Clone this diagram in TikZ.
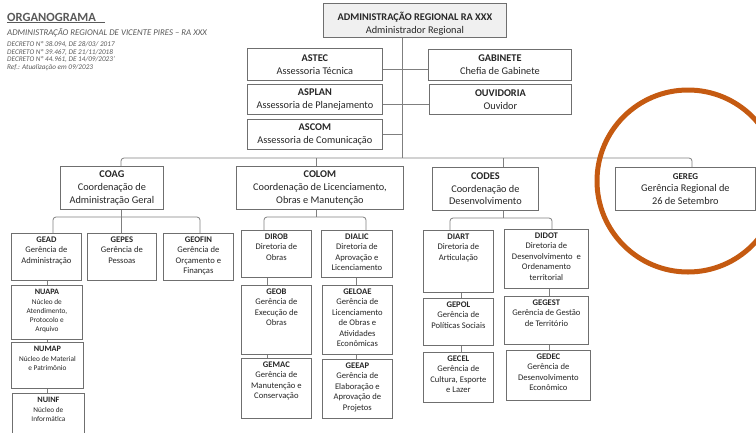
\documentclass[tikz,border=0pt]{standalone}
\usepackage{fontspec}
\setmainfont{Carlito}
\definecolor{tc}{HTML}{262626}
\definecolor{hc}{HTML}{595959}
\definecolor{bc}{HTML}{6F6F6F}
\definecolor{lc}{HTML}{7F7F7F}
\definecolor{oc}{HTML}{C55A11}
\newcommand\fA{\fontsize{10.3}{12.6}\selectfont}
\newcommand\fB{\fontsize{8.6}{10.5}\selectfont}
\newcommand\fC{\fontsize{7.3}{8.9}\selectfont}
\newcommand\fT{\fontsize{8.2}{9.5}\selectfont\bfseries}
\tikzset{
  bx/.style={draw=bc, line width=0.8pt, fill=white, rectangle, inner sep=1pt, text=tc},
  txt/.style={align=center, inner sep=0pt, text=tc},
  ln/.style={draw=lc, line width=0.8pt},
}
% centered box: [opts]{name}{x1}{y1}{x2}{y2}{text}
\newcommand\cbox[7][]{%
  \node[bx, align=center, anchor=north west, minimum width={(#5-#3)*1pt}, minimum height={(#6-#4)*1pt}, #1] (#2) at (#3,#4) {#7};}
% top aligned box
\newcommand\tbox[7][]{%
  \node[bx, anchor=north west, minimum width={(#5-#3)*1pt}, minimum height={(#6-#4)*1pt}] (#2) at (#3,#4) {};
  \node[txt, anchor=north, #1] (#2-t) at ([yshift=-3.5pt]#2.north) {#7};}
\begin{document}
\begin{tikzpicture}[x=1pt, y=-1pt]
\useasboundingbox (0,0) rectangle (756,432);
\clip (0,0) rectangle (756,432);
% header
\node[anchor=west, inner sep=0pt, text=hc, font=\fontsize{12.5}{14}\selectfont\bfseries] (title) at (7,18) {\underline{ORGANOGRAMA\hspace{9pt}}};
\node[anchor=west, inner sep=0pt, text=hc, font=\fontsize{8.8}{10}\selectfont\itshape] (sub) at (7,33) {ADMINISTRAÇÃO REGIONAL DE VICENTE PIRES – RA XXX};
\node[anchor=north west, inner sep=0pt, align=left, text=hc, font=\fontsize{7.2}{7.9}\selectfont\itshape] (dec) at (7,41) {DECRETO Nº 38.094, DE 28/03/ 2017\\DECRETO Nº 39.467, DE 21/11/2018\\DECRETO Nº 44.961, DE 14/09/2023'\\Ref.: Atualização em 09/2023};
% top boxes
\node[bx, fill=gray!12, anchor=north west, minimum width=183pt, minimum height=34pt] (adm) at (323,3) {};
\node[txt, font=\fA] (adm-t) at ([yshift=-3pt]adm.center) {\textbf{ADMINISTRAÇÃO REGIONAL RA XXX}\\Administrador Regional};
\cbox[font=\fA]{astec}{247}{48}{382}{80}{\textbf{ASTEC}\\Assessoria Técnica}
\cbox[font=\fA]{asplan}{247}{84}{382}{114}{\textbf{ASPLAN}\\Assessoria de Planejamento}
\cbox[font=\fA]{ascom}{247}{119}{382}{149}{\textbf{ASCOM}\\Assessoria de Comunicação}
\cbox[font=\fA]{gab}{428}{49}{571}{80}{\textbf{GABINETE}\\Chefia de Gabinete}
\cbox[font=\fA]{ouv}{429}{84}{571}{114}{\textbf{OUVIDORIA}\\Ouvidor}
% coordinations
\cbox[font=\fA]{coag}{60}{166}{163}{209}{\textbf{COAG}\\Coordenação de\\Administração Geral}
\cbox[font=\fA]{colom}{236}{166}{403}{209}{\textbf{COLOM}\\Coordenação de Licenciamento,\\Obras e Manutenção}
\cbox[font=\fA]{codes}{432}{167}{538}{210}{\textbf{CODES}\\Coordenação de\\Desenvolvimento}
\cbox[font=\fA]{gereg}{615}{167}{755}{210}{{\fontsize{9}{10}\selectfont\bfseries GEREG}\\Gerência Regional de\\26 de Setembro}
% COAG units
\tbox[font=\fB]{gead}{11}{233}{81}{280}{\textbf{GEAD}\\Gerência de\\Administração}
\tbox[font=\fB]{gepes}{87}{233}{156}{280}{\textbf{GEPES}\\Gerência de\\Pessoas}
\tbox[font=\fB]{geofin}{163}{233}{233}{280}{\textbf{GEOFIN}\\Gerência de\\Orçamento e\\Finanças}
\tbox[font=\fC]{nuapa}{11}{285}{82}{339}{{\fT NUAPA}\\[1.5pt]Núcleo de\\Atendimento,\\Protocolo e\\Arquivo}
\tbox[font=\fC]{numap}{11}{342}{83}{388}{{\fT NUMAP}\\[1.5pt]Núcleo de Material\\e Patrimônio}
\tbox[font=\fC]{nuinf}{12}{393}{84}{445}{{\fT NUINF}\\[1.5pt]Núcleo de\\Informática}
% COLOM units
\tbox[font=\fB]{dirob}{241}{230}{311}{277}{\textbf{DIROB}\\Diretoria de\\Obras}
\tbox[font=\fB]{dialic}{321}{230}{392}{277}{\textbf{DIALIC}\\Diretoria de\\Aprovação e\\Licenciamento}
\tbox[font=\fB]{geob}{241}{285}{311}{354}{\textbf{GEOB}\\Gerência de\\Execução de\\Obras}
\tbox[font=\fB]{gemac}{241}{358}{311}{418}{\textbf{GEMAC}\\Gerência de\\Manutenção e\\Conservação}
\tbox[font=\fB]{geloae}{322}{285}{392}{354}{\textbf{GELOAE}\\Gerência de\\Licenciamento\\de Obras e\\Atividades\\Econômicas}
\tbox[font=\fB]{geeap}{322}{359}{392}{418}{\textbf{GEEAP}\\Gerência de\\Elaboração e\\Aprovação de\\Projetos}
% CODES units
\tbox[font=\fB]{diart}{423}{230}{493}{292}{\textbf{DIART}\\Diretoria de\\Articulação}
\tbox[font=\fB]{didot}{504}{229}{588}{288}{\textbf{DIDOT}\\Diretoria de\\Desenvolvimento~ e\\Ordenamento\\territorial}
\tbox[font=\fB]{gepol}{423}{298}{493}{345}{\textbf{GEPOL}\\Gerência de\\Políticas Sociais}
\tbox[font=\fB]{gecel}{423}{352}{493}{402}{\textbf{GECEL}\\Gerência de\\Cultura, Esporte\\e Lazer}
\tbox[font=\fB]{gegest}{504}{296}{588}{344}{\textbf{GEGEST}\\Gerência de Gestão\\de Território}
\tbox[font=\fB]{gedec}{506}{350}{590}{400}{\textbf{GEDEC}\\Gerência de\\Desenvolvimento\\Econômico}
% coordinates of connectors
\coordinate (tk) at (402,158);
\coordinate (l1) at (0,69);
\coordinate (l2) at (0,104);
\coordinate (d1) at (121,158);
\coordinate (d2) at (316,158);
\coordinate (d3) at (503,158);
\coordinate (d4) at (692,158);
\coordinate (s1a) at (53,217);
\coordinate (s1c) at (200,217);
\coordinate (s2a) at (264,217);
\coordinate (s2c) at (366,217);
\coordinate (s3a) at (450,218);
\coordinate (s3c) at (552,218);
\coordinate (v1) at (47,0);
\coordinate (v2) at (267,0);
\coordinate (v3) at (356,0);
\coordinate (v4) at (461,0);
\coordinate (v5) at (549,0);
% top connectors
\draw[ln] (adm.south -| tk) -- (tk);
\draw[ln] (astec.east |- l1) -- (gab.west |- l1);
\draw[ln] (asplan.east |- l2) -- (ouv.west |- l2);
\draw[ln] (ascom.east) -- (ascom.east -| tk);
\draw[ln, rounded corners=3] (d1 |- coag.north) -- (d1) -- (d4) -- (d4 |- gereg.north);
\draw[ln] (d2) -- (d2 |- colom.north);
\draw[ln] (d3) -- (d3 |- codes.north);
% COAG
\draw[ln, rounded corners=3] (s1a |- gead.north) -- (s1a) -- (s1c) -- (s1c |- geofin.north);
\draw[ln] (d1 |- coag.south) -- (d1 |- gepes.north);
\draw[ln] (v1 |- gead.south) -- (v1 |- nuapa.north);
\draw[ln] (v1 |- nuapa.south) -- (v1 |- numap.north);
\draw[ln] (v1 |- numap.south) -- (v1 |- nuinf.north);
% COLOM
\draw[ln, rounded corners=3] (s2a |- dirob.north) -- (s2a) -- (s2c) -- (s2c |- dialic.north);
\draw[ln] (d2 |- colom.south) -- (d2 |- s2a);
\draw[ln] (v2 |- dirob.south) -- (v2 |- geob.north);
\draw[ln] (v2 |- geob.south) -- (v2 |- gemac.north);
\draw[ln] (v3 |- dialic.south) -- (v3 |- geloae.north);
\draw[ln] (v3 |- geloae.south) -- (v3 |- geeap.north);
% CODES
\draw[ln, rounded corners=3] (s3a |- diart.north) -- (s3a) -- (s3c) -- (s3c |- didot.north);
\draw[ln] (d3 |- codes.south) -- (d3 |- s3a);
\draw[ln] (v4 |- diart.south) -- (v4 |- gepol.north);
\draw[ln] (v4 |- gepol.south) -- (v4 |- gecel.north);
\draw[ln] (v5 |- didot.south) -- (v5 |- gegest.north);
\draw[ln] (v5 |- gegest.south) -- (v5 |- gedec.north);
% highlight circle
\node[circle, draw=oc, line width=5pt, minimum size=182pt, inner sep=0pt] (hl) at (688,181) {};
\end{tikzpicture}
\end{document}
